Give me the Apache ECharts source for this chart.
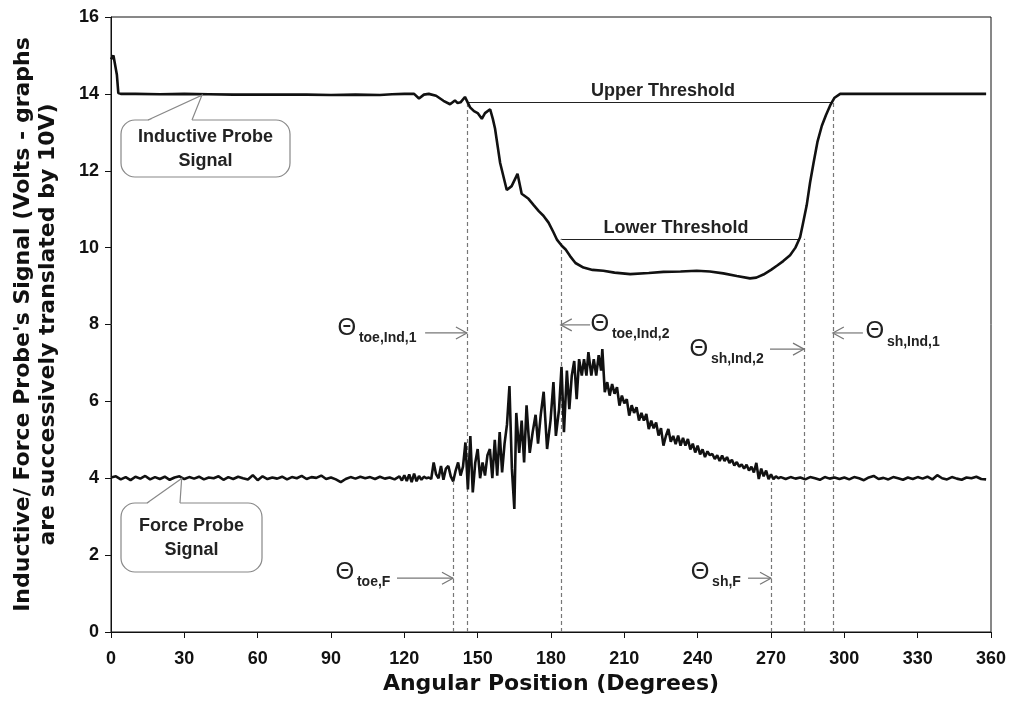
<!DOCTYPE html>
<html><head><meta charset="utf-8">
<script src="https://cdn.jsdelivr.net/npm/echarts@6/dist/echarts.min.js"></script>
<style>html,body{margin:0;padding:0;background:#fff}#c{width:1017px;height:722px}</style>
</head><body><div id="c"></div>
<script>
// ---- data ----
const xTickInterval = 30;
const yTickInterval = 2;
const xTitle = 'Angular Position (Degrees)';
const yTitle = "Inductive/ Force Probe's Signal (Volts - graphs\nare successively translated by 10V)";

const inductiveProbe = [
[0,14.9],[1,15.0],[1.8,15.0],[2.4,14.5],[3,14.02],[4,14.0],[6,14.0],[10,14.0],[20,13.99],[30,14.0],
[40,13.99],[50,13.98],[60,13.98],[70,13.98],[80,13.98],[90,13.97],[100,13.98],[110,13.97],[115,13.99],
[120,14.0],[124,14.0],[126,13.88],[128,13.98],[130,14.0],[133,13.95],[136,13.82],[138.7,13.73],[140.7,13.83],
[141.8,13.76],[143,13.78],[144.8,13.92],[146.9,13.65],[148.5,13.55],[150,13.5],[151.7,13.35],[153,13.5],
[155.1,13.6],[156.2,13.35],[157.1,13.1],[159.2,12.2],[161.9,11.5],[163.9,11.6],[166.3,11.92],[168,11.4],
[170.8,11.27],[173,11.1],[175,10.95],[176.9,10.83],[179,10.65],[181,10.4],[182.5,10.2],[184.4,10.05],
[186,9.95],[187.8,9.78],[190,9.6],[193.3,9.48],[197,9.42],[201.4,9.4],[206,9.35],[212.4,9.31],[220,9.34],
[226,9.37],[233,9.38],[239.6,9.4],[245,9.38],[250.5,9.33],[256,9.26],[261.4,9.2],[264,9.22],[266.9,9.3],
[270,9.42],[272.4,9.53],[275,9.65],[277.8,9.8],[280,10.0],[281.9,10.27],[283,10.6],[284.6,11.1],[286,11.7],
[287.4,12.2],[289,12.75],[290.8,13.17],[292.5,13.45],[294.2,13.7],[296,13.9],[298.3,14.0],[302,14.0],
[310,14.0],[320,14.0],[330,14.0],[340,14.0],[350,14.0],[358,14.0]
];

const forceProbe = [
[0,4.02],[2,4.05],[4,3.97],[6,4.03],[8,3.95],[10,4.04],[12,3.99],[14,4.06],[16,3.97],[18,4.03],
[20,3.98],[22,4.04],[24,3.96],[26,4.02],[28,4.05],[30,3.98],[32,4.03],[34,3.99],[36,4.04],[38,3.97],
[40,4.02],[42,4.00],[44,4.05],[46,3.96],[48,4.03],[50,3.98],[52,4.04],[54,4.00],[56,3.97],[58,4.08],
[60,3.95],[62,4.05],[64,3.98],[66,4.02],[68,3.99],[70,4.04],[72,3.97],[74,4.03],[76,4.00],[78,4.06],
[80,3.98],[82,4.03],[84,4.01],[86,4.07],[88,3.98],[90,4.02],[92,3.97],[94,3.90],[96,3.98],[98,4.03],
[100,3.99],[102,4.04],[104,4.00],[106,4.03],[108,3.98],[110,4.04],[112,3.99],[114,4.02],[116,3.97],
[118,4.05],[119,3.94],[120,4.08],[121,3.93],[122,4.1],[123,3.9],[124,4.12],[125,3.92],[126,4.06],
[127,3.96],[128,4.04],[129,4.0],[130,4.02],[131,3.98],[132,4.41],[133,4.1],[134,4.0],[135,4.32],
[136,3.96],[137,4.25],[138,4.32],[139,4.05],[140,3.92],[141,4.2],[142,4.41],[143,4.07],[144,4.3],
[145,4.93],[146,3.71],[147,5.1],[148,3.63],[149,4.4],[150,4.76],[151,4.0],[152,4.41],[153,4.07],
[154,4.6],[155,4.76],[156,4.0],[157,5.0],[158,4.07],[159,5.2],[160,4.15],[161,4.9],[162,5.4],[163,6.4],
[164,4.25],[165,3.2],[165.8,5.7],[167,4.66],[168,5.5],[169,4.41],[170,5.9],[171.3,4.66],[172.5,5.2],
[173.7,5.65],[174.7,4.9],[175.8,5.65],[177,6.25],[178.4,4.76],[179.8,5.5],[181,6.5],[182,5.1],[183.3,5.8],
[184.3,6.9],[185.3,5.2],[186.5,6.8],[187.5,5.8],[188.5,6.67],[189.5,7.05],[190.5,6.06],[191.5,7.1],
[192.6,6.67],[193.5,7.1],[194.5,6.67],[195.3,7.28],[196.5,6.67],[197.5,7.1],[198.5,6.67],[199.5,7.2],
[200.5,6.8],[201,7.36],[202,6.24],[203,6.5],[204,6.15],[205,6.45],[206,6.2],[207,6.37],[208,5.89],
[209,6.15],[210,5.95],[211,6.06],[212,5.63],[213,5.9],[214,5.7],[215,5.85],[216,5.5],[217,5.7],[218,5.5],
[219,5.67],[220,5.28],[221,5.5],[222,5.3],[223,5.45],[224,5.11],[225,5.3],[226,4.85],[227,5.1],[228,5.28],
[229,4.95],[230,5.1],[231,4.89],[232,5.11],[233,4.85],[234,5.05],[235,4.85],[236,5.02],[237,4.75],
[238,4.9],[239,4.67],[240,4.85],[241,4.62],[242,4.75],[243,4.55],[244,4.7],[245,4.6],[246,4.63],[247,4.5],
[248,4.6],[249,4.45],[250,4.59],[251,4.45],[252,4.55],[253,4.4],[254,4.48],[255,4.33],[256,4.42],
[257,4.3],[258,4.36],[259,4.25],[260,4.35],[261,4.2],[262,4.3],[263,4.15],[264,4.4],[265,3.98],[266,4.25],
[267,4.05],[268,4.2],[269,3.98],[270,4.1],[271,3.98],[272,4.05],[273,4.0],[274,4.03],[276,3.98],[278,4.03],
[280,3.99],[282,4.02],[284,3.97],[286,4.03],[288,4.0],[290,3.96],[292,4.03],[294,3.99],[296,4.02],
[298,3.98],[300,4.02],[302,3.97],[304,4.03],[306,4.0],[308,3.95],[310,4.02],[312,4.06],[314,3.98],
[316,4.01],[318,3.97],[320,4.03],[322,4.0],[324,3.96],[326,4.02],[328,3.98],[330,4.03],[332,3.99],
[334,4.04],[336,3.97],[338,4.08],[340,4.0],[342,3.97],[344,4.03],[346,3.99],[348,3.96],[350,4.02],
[352,4.0],[354,4.04],[356,3.98],[358,3.97]
];

const upperThreshold = { value: 13.79, from: 145.6, to: 295.3, label: 'Upper Threshold', labelX: 225.8 };
const lowerThreshold = { value: 10.23, from: 184.0, to: 281.8, label: 'Lower Threshold', labelX: 231.1 };

// vertical dashed markers: angle, top value
const markerAngles = [139.9, 145.6, 184.0, 270.0, 283.5, 295.3];
const markerTops   = [3.9, 13.79, 10.23, 3.9, 10.23, 13.79];

// arrow annotations
const arrowSubs  = ['toe,Ind,1', 'toe,Ind,2', 'sh,Ind,2', 'sh,Ind,1', 'toe,F', 'sh,F'];
const arrowFrom  = [128.5, 196.0, 269.6, 307.6, 117.0, 260.6];
const arrowTo    = [145.6, 184.0, 283.5, 295.3, 139.9, 270.0];
const arrowY     = [7.78, 7.99, 7.36, 7.78, 1.40, 1.40];
const thetaX     = [96.5, 200.0, 240.5, 312.5, 95.7, 241.0];
const thetaY     = [7.91, 8.01, 7.36, 7.81, 1.56, 1.56];

// callouts
const calloutText = ['Inductive Probe\nSignal', 'Force Probe\nSignal'];
const calloutTip  = [[37.2, 13.99], [28.9, 4.02]];

const FONT = 'Liberation Sans, Arial, sans-serif';
const TFONT = 'DejaVu Sans, Liberation Sans, sans-serif';
const chart = echarts.init(document.getElementById('c'), null, {renderer: 'canvas'});

const markerLines = markerAngles.map((a, i) => [{coord: [a, 0]}, {coord: [a, markerTops[i]]}]);

chart.setOption({
  backgroundColor: '#fff',
  animation: false,
  grid: {left: 111, right: 26, top: 17, bottom: 90, show: true, borderColor: '#111', borderWidth: 1},
  xAxis: {
    type: 'value', min: 0, max: 360, interval: xTickInterval,
    name: xTitle, nameLocation: 'middle', nameGap: 36,
    nameTextStyle: {fontFamily: TFONT, fontWeight: 'bold', fontSize: 22, color: '#111'},
    axisLine: {show: true, onZero: false, lineStyle: {color: '#111', width: 1}},
    axisTick: {show: true, inside: false, length: 6, lineStyle: {color: '#111'}},
    axisLabel: {fontFamily: FONT, fontWeight: 'bold', fontSize: 18, color: '#111', margin: 18},
    splitLine: {show: false}
  },
  yAxis: {
    type: 'value', min: 0, max: 16, interval: yTickInterval,
    name: yTitle, nameLocation: 'middle', nameGap: 50, nameRotate: 90,
    nameTextStyle: {fontFamily: TFONT, fontWeight: 'bold', fontSize: 22, color: '#111', lineHeight: 25, align: 'center'},
    axisLine: {show: true, onZero: false, lineStyle: {color: '#111', width: 1}},
    axisTick: {show: true, inside: false, length: 6, lineStyle: {color: '#111'}},
    axisLabel: {fontFamily: FONT, fontWeight: 'bold', fontSize: 18, color: '#111', margin: 12},
    splitLine: {show: false}
  },
  series: [
    {
      name: 'Inductive Probe Signal', type: 'line', data: inductiveProbe, symbol: 'none',
      lineStyle: {color: '#111', width: 2.6}, z: 5,
      markLine: {
        silent: true, symbol: ['none', 'none'], label: {show: false},
        lineStyle: {color: '#222', width: 1, type: 'solid'},
        data: [
          [{coord: [upperThreshold.from, upperThreshold.value]}, {coord: [upperThreshold.to, upperThreshold.value]}],
          [{coord: [lowerThreshold.from, lowerThreshold.value]}, {coord: [lowerThreshold.to, lowerThreshold.value]}]
        ]
      }
    },
    {
      name: 'Force Probe Signal', type: 'line', data: forceProbe, symbol: 'none',
      lineStyle: {color: '#111', width: 2.6}, z: 5,
      markLine: {
        silent: true, symbol: ['none', 'none'], label: {show: false},
        lineStyle: {color: '#777', width: 1.2, type: [4, 3]},
        data: markerLines
      }
    }
  ]
});

function P(x, y) { return chart.convertToPixel({gridIndex: 0}, [x, y]); }

const g = [];
[upperThreshold, lowerThreshold].forEach(t => {
  const p = P(t.labelX, t.value);
  g.push({type: 'text', x: p[0], y: p[1] - 11, style: {text: t.label, font: 'bold 18px ' + FONT, fill: '#222', textAlign: 'center', textVerticalAlign: 'middle'}, z: 20});
});
for (let i = 0; i < arrowSubs.length; i++) {
  const a = P(arrowFrom[i], arrowY[i]);
  const b = P(arrowTo[i], arrowY[i]);
  const dir = b[0] > a[0] ? 1 : -1;
  g.push({type: 'line', shape: {x1: a[0], y1: a[1], x2: b[0], y2: b[1]}, style: {stroke: '#777', lineWidth: 1.2}, z: 20});
  g.push({type: 'polyline', shape: {points: [[b[0] - dir * 11, b[1] - 6], [b[0], b[1]], [b[0] - dir * 11, b[1] + 6]]}, style: {stroke: '#777', lineWidth: 1.2, fill: null}, z: 20});
  const t = P(thetaX[i], thetaY[i]);
  g.push({type: 'text', x: t[0], y: t[1], style: {text: 'Θ', font: '24px ' + FONT, fill: '#222', textAlign: 'center', textVerticalAlign: 'middle'}, z: 20});
  g.push({type: 'text', x: t[0] + 12, y: t[1] + 10, style: {text: arrowSubs[i], font: 'bold 14px ' + FONT, fill: '#222', textAlign: 'left', textVerticalAlign: 'middle'}, z: 20});
}
const boxes = [
  {x: 121, y: 120, w: 169, h: 57, base1: 148, base2: 192},
  {x: 121, y: 503, w: 141, h: 69, base1: 147, base2: 180}
];
boxes.forEach((bx, i) => {
  const tip = P(calloutTip[i][0], calloutTip[i][1]);
  g.push({type: 'rect', shape: {x: bx.x, y: bx.y, width: bx.w, height: bx.h, r: 14}, style: {fill: '#fff', stroke: '#888', lineWidth: 1.2}, z: 21});
  g.push({type: 'polygon', shape: {points: [[bx.base1, bx.y + 1], [tip[0], tip[1] + 1], [bx.base2, bx.y + 1]]}, style: {fill: '#fff', stroke: null}, z: 22});
  g.push({type: 'polyline', shape: {points: [[bx.base1, bx.y], [tip[0], tip[1] + 1], [bx.base2, bx.y]]}, style: {stroke: '#888', lineWidth: 1.2, fill: null}, z: 22});
  g.push({type: 'text', x: bx.x + bx.w / 2, y: bx.y + bx.h / 2 + 1, style: {text: calloutText[i], font: 'bold 18px ' + FONT, fill: '#222', textAlign: 'center', textVerticalAlign: 'middle', lineHeight: 24}, z: 23});
});
chart.setOption({graphic: g});
</script>
</body></html>
